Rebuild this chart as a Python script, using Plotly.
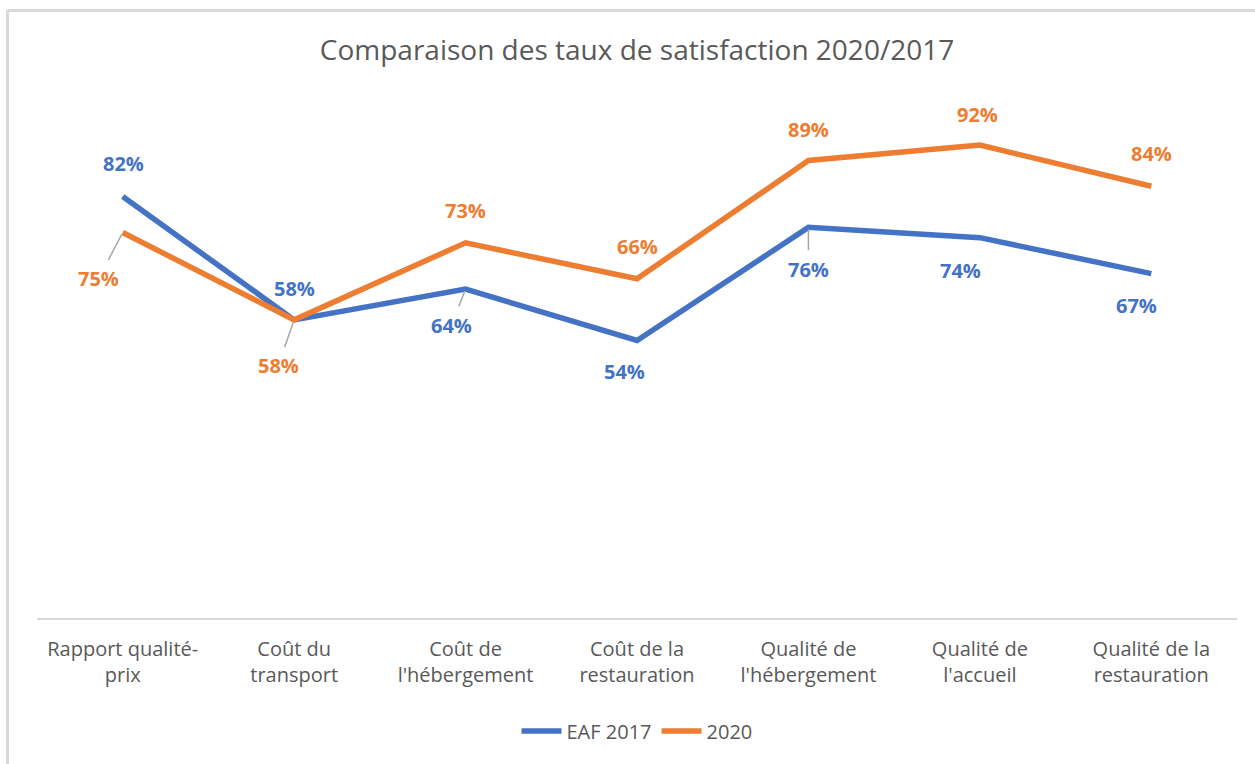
import plotly.graph_objects as go

categories = ["Rapport qualité-<br>prix", "Coût du<br>transport", "Coût de<br>l'hébergement",
              "Coût de la<br>restauration", "Qualité de<br>l'hébergement", "Qualité de<br>l'accueil",
              "Qualité de la<br>restauration"]
eaf_2017 = [0.82, 0.58, 0.64, 0.54, 0.76, 0.74, 0.67]
y_2020 = [0.75, 0.58, 0.73, 0.66, 0.89, 0.92, 0.84]

BLUE = "#4472C4"
ORANGE = "#ED7D31"
GRAY = "#595959"

# label placement styles: (xshift, yshift, leader)
style_2017 = [(1, 33, False), (0, 31, False), (-14, -36, True), (-13, -31, False),
              (0, -42, True), (-19, -33, False), (-15, -32, False)]
style_2020 = [(-24, -46, True), (-16, -46, True), (0, 32, False), (0, 32, False),
              (0, 31, False), (-2, 31, False), (0, 33, False)]

L, R, T, B = 37, 18, 104, 146
W, H = 1255, 764
pw, ph = W - L - R, H - T - B

fig = go.Figure()
fig.add_trace(go.Scatter(x=categories, y=eaf_2017, mode="lines", name="EAF 2017",
                         line=dict(color=BLUE, width=5.5), hoverinfo="skip"))
fig.add_trace(go.Scatter(x=categories, y=y_2020, mode="lines", name="2020",
                         line=dict(color=ORANGE, width=5.5), hoverinfo="skip"))

annotations = []
for vals, styles, col in ((eaf_2017, style_2017, BLUE), (y_2020, style_2020, ORANGE)):
    for cat, v, (dx, dy, leader) in zip(categories, vals, styles):
        txt = f"{round(v*100)}%"
        f = dict(family="Open Sans", size=20, color=col, weight="bold")
        if leader:
            annotations.append(dict(x=cat, y=v, xref="x", yref="y", text=txt, font=f,
                                    showarrow=True, arrowhead=0, arrowwidth=1.5,
                                    arrowcolor="#A6A6A6", ax=dx, ay=-dy,
                                    standoff=2, startstandoff=4))
        else:
            annotations.append(dict(x=cat, y=v, xref="x", yref="y", text=txt, font=f,
                                    showarrow=False, xshift=dx, yshift=dy))

def px_x(p):
    return (p - L) / pw

def px_y(p):
    return (H - B - p) / ph

shapes = [
    dict(type="line", xref="paper", yref="paper", x0=px_x(7.5), x1=px_x(W + 5),
         y0=px_y(10.5), y1=px_y(10.5), line=dict(color="#D9D9D9", width=3)),
    dict(type="line", xref="paper", yref="paper", x0=px_x(7.5), x1=px_x(7.5),
         y0=px_y(10), y1=px_y(H + 5), line=dict(color="#D9D9D9", width=3)),
]

fig.update_layout(
    width=W, height=H,
    margin=dict(l=L, r=R, t=T, b=B),
    paper_bgcolor="white", plot_bgcolor="white",
    title=dict(text="Comparaison des taux de satisfaction 2020/2017",
               font=dict(family="Open Sans", size=28, color=GRAY),
               x=0.5, xref="paper", xanchor="center",
               y=1 - 50 / H, yref="container", yanchor="middle"),
    xaxis=dict(showline=True, linecolor="#D9D9D9", linewidth=2, showgrid=False,
               range=[-0.5, len(categories) - 0.5],
               ticks="", tickfont=dict(family="Open Sans", size=20, color=GRAY),
               ticklabelstandoff=12, fixedrange=True),
    yaxis=dict(range=[0, 1], visible=False, showgrid=False, fixedrange=True),
    legend=dict(orientation="h", x=0.5, xanchor="center", y=px_y(731), yanchor="middle",
                font=dict(family="Open Sans", size=20, color=GRAY),
                itemwidth=40, traceorder="normal"),
    annotations=annotations,
    shapes=shapes,
    showlegend=True,
)

fig.write_html("out.html", config={"displayModeBar": False},
               post_script="document.body.style.margin='0';document.body.style.padding='0';")
